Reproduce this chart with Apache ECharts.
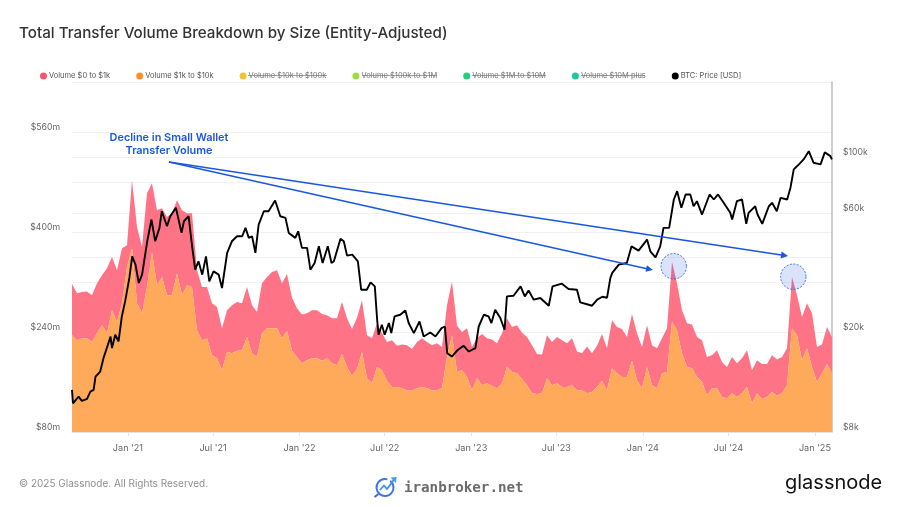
<!DOCTYPE html>
<html>
<head>
<meta charset="UTF-8">
<title>Total Transfer Volume Breakdown by Size (Entity-Adjusted)</title>
<script src="https://cdn.jsdelivr.net/npm/echarts@6/dist/echarts.min.js"></script>
<style>
  body { margin: 0; background: #fff; }
  #chart { width: 900px; height: 507px; }
</style>
</head>
<body>
<div id="chart"></div>
<script>
const firstDay = '2020-09-04';
const stepDays = 10.634;

// $ millions
const volume1kTo10k = [
  235, 227, 230, 230, 224, 238, 251, 238, 275, 256, 286, 344, 374, 286, 270, 312, 368, 315, 328, 299,
  299, 334, 299, 315, 312, 243, 227, 230, 203, 198, 179, 208, 206, 210, 211, 232, 206, 200, 238, 246,
  246, 246, 230, 242, 210, 200, 190, 195, 198, 198, 194, 198, 190, 187, 205, 184, 170, 181, 208, 166,
  158, 184, 179, 162, 152, 152, 150, 147, 146, 150, 152, 150, 147, 147, 150, 200, 235, 176, 179, 168,
  147, 166, 155, 158, 154, 150, 158, 184, 176, 174, 165, 155, 142, 141, 142, 166, 155, 158, 152, 152,
  155, 147, 147, 142, 144, 152, 162, 147, 182, 174, 168, 168, 194, 163, 150, 184, 155, 150, 174, 176,
  256, 243, 206, 184, 182, 168, 160, 139, 150, 150, 136, 134, 142, 136, 142, 152, 126, 142, 133, 136,
  144, 138, 142, 155, 246, 235, 195, 214, 184, 160, 174, 189, 174
];
const volume0To1k = [
  82, 75, 74, 75, 75, 80, 80, 104, 85, 83, 88, 35, 109, 122, 106, 150, 110, 120, 110, 125,
  131, 117, 136, 115, 118, 96, 85, 82, 83, 82, 67, 67, 77, 78, 75, 80, 77, 72, 80, 82,
  90, 93, 88, 91, 85, 78, 78, 75, 77, 77, 75, 69, 72, 75, 83, 78, 75, 82, 83, 69,
  72, 70, 59, 62, 75, 66, 70, 72, 67, 74, 78, 74, 72, 75, 66, 83, 86, 74, 61, 78,
  69, 64, 82, 72, 74, 72, 80, 78, 72, 77, 74, 77, 77, 64, 62, 69, 69, 74, 75, 70,
  75, 62, 59, 75, 62, 66, 75, 67, 77, 74, 77, 64, 75, 75, 66, 67, 64, 64, 56, 70,
  96, 75, 69, 70, 70, 64, 67, 61, 53, 61, 56, 50, 58, 54, 56, 59, 53, 53, 56, 53,
  59, 58, 58, 59, 82, 64, 69, 72, 86, 56, 46, 59, 58
];

// price turning points: days after firstDay, and USD
const btcDays = [
  0, 2, 6, 14, 21, 32, 39, 46, 50, 60, 67, 74, 82, 85, 92, 99, 106, 113, 122, 128,
  135, 142, 149, 160, 169, 177, 186, 191, 202, 209, 221, 233, 238, 248, 255, 262, 269, 277, 285, 292,
  301, 312, 319, 330, 340, 351, 362, 369, 376, 383, 390, 397, 408, 418, 432, 443, 454, 461, 475, 481,
  489, 500, 507, 516, 525, 533, 544, 552, 557, 571, 578, 585, 596, 608, 615, 627, 635, 644, 649, 652,
  659, 665, 674, 679, 686, 698, 709, 716, 727, 739, 748, 762, 773, 786, 793, 798, 808, 819, 833, 844,
  858, 865, 876, 886, 892, 900, 911, 920, 925, 939, 954, 963, 971, 982, 996, 1014, 1022, 1042, 1056, 1074,
  1081, 1099, 1106, 1117, 1128, 1138, 1145, 1149, 1163, 1180, 1190, 1205, 1223, 1230, 1241, 1251, 1258, 1270, 1280, 1287,
  1296, 1305, 1315, 1322, 1329, 1340, 1356, 1365, 1374, 1386, 1400, 1404, 1414, 1425, 1434, 1439, 1453, 1458, 1468, 1482,
  1489, 1499, 1507, 1521, 1528, 1535, 1546, 1556, 1567, 1577, 1592, 1601, 1613, 1616
];
const btcPrice = [
  11780, 10420, 10330, 11080, 10650, 10840, 11600, 11780, 13320, 13950, 15780, 17300, 19250, 17300, 19560, 18390, 23150, 26590, 32990, 40250,
  37290, 31500, 34000, 46220, 56450, 46220, 52290, 60940, 53070, 58190, 62880, 49930, 55570, 58190, 44830, 35610, 38440, 34000, 40250, 31970,
  35050, 34000, 30080, 41530, 46220, 48400, 48400, 52290, 47690, 48400, 41530, 53900, 60940, 60940, 67260, 58190, 57340, 49930, 47690, 50680,
  43490, 43490, 35610, 37870, 44130, 37870, 44130, 37870, 38440, 47250, 46220, 40510, 40880, 38440, 29610, 29610, 31670, 30530, 22460, 19560,
  21450, 19560, 21790, 19870, 23150, 23520, 24470, 21790, 19870, 22110, 19250, 19980, 19250, 20800, 21110, 16520, 16010, 16920, 17670, 16770,
  17300, 21110, 23520, 23150, 21790, 24630, 22810, 20480, 27840, 28020, 30530, 27840, 29420, 27010, 27430, 25550, 30530, 31300, 29810, 29610,
  26340, 25790, 25550, 27010, 27760, 27510, 32990, 34540, 37290, 37870, 44130, 42420, 46950, 42150, 39880, 44130, 52290, 52290, 67880, 73270,
  62880, 71080, 71080, 63810, 66820, 59110, 71080, 67880, 71080, 65850, 60050, 56450, 66820, 67880, 54260, 60050, 63810, 59110, 54260, 63810,
  65850, 60940, 68940, 67880, 75620, 89510, 93710, 98160, 105900, 95190, 93710, 104700, 101180, 98160
];

const hiddenSeries = [
  ['Volume $10k to $100k', '#f2c230'],
  ['Volume $100k to $1M', '#9ddc3c'],
  ['Volume $1M to $10M', '#22d07a'],
  ['Volume $10M plus', '#1cc8a4']
];
const xTickDates = ['2021-01-01', '2021-07-01', '2022-01-01', '2022-07-01', '2023-01-01', '2023-07-01', '2024-01-01', '2024-07-01', '2025-01-01'];
const xTickLabels = ["Jan '21", "Jul '21", "Jan '22", "Jul '22", "Jan '23", "Jul '23", "Jan '24", "Jul '24", "Jan '25"];
const volumeLabelTicks = [80, 240, 400, 560];
const priceLabelTicks = [8000, 20000, 60000, 100000];
const priceGridTicks = [8000, 20000, 40000, 60000, 100000];

const DAY = 86400000;
const startTime = new Date(firstDay + 'T00:00:00Z').getTime();
const dates = volume0To1k.map((v, i) => startTime + i * stepDays * DAY);
const xTicks = xTickDates.map(d => new Date(d + 'T00:00:00Z').getTime());
// value comes first: echarts stacks on the first non-time dimension
const pair = values => values.map((v, i) => [v, dates[i]]);
const priceData = btcPrice.map((v, i) => [v, startTime + btcDays[i] * DAY]);
const encodeValueFirst = { x: 1, y: 0 };

const blue = '#1a56e0';
const gridColor = '#f1f1f1';
const fontName = 'Inter, "Noto Sans", sans-serif';

function strike(x1, x2) {
  return { type: 'line', shape: { x1: x1, y1: 75.5, x2: x2, y2: 75.5 }, style: { stroke: '#777', lineWidth: 0.7 }, silent: true };
}

const chart = echarts.init(document.getElementById('chart'));
chart.setOption({
  animation: false,
  backgroundColor: '#fff',
  textStyle: { fontFamily: fontName },
  title: {
    text: 'Total Transfer Volume Breakdown by Size (Entity-Adjusted)',
    left: 14, top: 21,
    textStyle: { fontFamily: fontName, fontSize: 15.2, fontWeight: 500, color: '#333' }
  },
  legend: {
    left: 35, top: 67,
    icon: 'circle', itemWidth: 7, itemHeight: 7, itemGap: 26,
    selectedMode: false,
    textStyle: { fontFamily: fontName, fontSize: 7.5, color: '#555', padding: [0, 0, 0, -3] },
    data: ['Volume $0 to $1k', 'Volume $1k to $10k']
      .concat(hiddenSeries.map(s => ({ name: s[0], textStyle: { color: '#777' } })))
      .concat(['BTC: Price [USD]'])
  },
  grid: { left: 72, right: 68, top: 82, bottom: 75 },
  // plain value axis holding timestamps, so the half-year ticks can be listed by hand
  xAxis: {
    type: 'value',
    min: dates[0],
    max: dates[dates.length - 1],
    axisLine: { lineStyle: { color: '#e4e4e4' } },
    axisTick: { customValues: xTicks, length: 4, lineStyle: { color: '#e4e4e4' } },
    axisLabel: {
      customValues: xTicks,
      formatter: v => xTickLabels[xTicks.indexOf(+v)],
      color: '#666', fontSize: 9.1, margin: 12
    },
    splitLine: { show: false }
  },
  yAxis: [
    {
      type: 'value',
      min: 80, max: 640, interval: 80,
      position: 'left',
      axisLine: { show: false },
      axisTick: { show: false },
      axisLabel: {
        customValues: volumeLabelTicks,
        formatter: v => '$' + v + 'm',
        color: '#666', fontSize: 8.7, margin: 12, verticalAlign: 'bottom'
      },
      splitLine: { lineStyle: { color: gridColor } }
    },
    {
      type: 'log',
      min: 8000, max: 200000,
      position: 'right',
      axisLine: { show: true, lineStyle: { color: '#bdbdbd', width: 1.5 } },
      axisTick: { show: false, customValues: priceGridTicks },
      axisLabel: {
        customValues: priceLabelTicks,
        formatter: v => '$' + Math.round(v / 1000) + 'k',
        color: '#666', fontSize: 8.7, margin: 11, verticalAlign: 'bottom'
      },
      splitLine: { show: true, lineStyle: { color: gridColor } }
    }
  ],
  series: [
    {
      name: 'Volume $1k to $10k', type: 'line', stack: 'volume', yAxisIndex: 0, z: 3,
      data: pair(volume1kTo10k), encode: encodeValueFirst, showSymbol: false, color: '#fb8f2e',
      lineStyle: { width: 0 }, areaStyle: { color: '#ffa95a', opacity: 1 }
    },
    {
      name: 'Volume $0 to $1k', type: 'line', stack: 'volume', yAxisIndex: 0, z: 2,
      data: pair(volume0To1k), encode: encodeValueFirst, showSymbol: false, color: '#f9556c',
      lineStyle: { width: 0 }, areaStyle: { color: '#ff7386', opacity: 1 }
    }
  ].concat(hiddenSeries.map(s => ({ name: s[0], type: 'line', data: [], color: s[1] }))).concat([
    {
      name: 'BTC: Price [USD]', type: 'line', yAxisIndex: 1, z: 5,
      data: priceData, encode: encodeValueFirst, showSymbol: false, color: '#000',
      lineStyle: { color: '#000', width: 1.9 }
    }
  ]),
  graphic: [
    // top frame of the plot
    { type: 'line', shape: { x1: 72, y1: 82.5, x2: 832, y2: 82.5 }, style: { stroke: '#ececec', lineWidth: 1 }, silent: true },
    // struck-through legend entries
    strike(248, 327), strike(362, 437), strike(472, 546), strike(581, 645),
    // annotation
    { type: 'text', x: 169, y: 138, z: 20, style: { text: 'Decline in Small Wallet', font: '600 10.9px ' + fontName, fill: blue, align: 'center', verticalAlign: 'middle' } },
    { type: 'text', x: 169, y: 151, z: 20, style: { text: 'Transfer Volume', font: '600 10.9px ' + fontName, fill: blue, align: 'center', verticalAlign: 'middle' } },
    { type: 'line', z: 20, shape: { x1: 169, y1: 162, x2: 648, y2: 269 }, style: { stroke: blue, lineWidth: 1.4 } },
    { type: 'line', z: 20, shape: { x1: 169, y1: 162, x2: 783, y2: 255.2 }, style: { stroke: blue, lineWidth: 1.4 } },
    { type: 'polygon', z: 20, shape: { points: [[653, 270], [645.5, 271.8], [646.9, 265.2]] }, style: { fill: blue } },
    { type: 'polygon', z: 20, shape: { points: [[788, 256], [780.6, 258.4], [781.6, 251.6]] }, style: { fill: blue } },
    { type: 'circle', z: 20, shape: { cx: 673.7, cy: 266.3, r: 12.7 }, style: { fill: 'rgba(50,100,230,0.18)', stroke: blue, lineWidth: 0.8, lineDash: [2, 1.5] } },
    { type: 'circle', z: 20, shape: { cx: 793.3, cy: 276.7, r: 12.7 }, style: { fill: 'rgba(50,100,230,0.18)', stroke: blue, lineWidth: 0.8, lineDash: [2, 1.5] } },
    // footer
    { type: 'text', x: 19, y: 484, style: { text: '© 2025 Glassnode. All Rights Reserved.', font: '10px ' + fontName, fill: '#8f8f8f', verticalAlign: 'middle' } },
    { type: 'arc', shape: { cx: 385, cy: 487.5, r: 8.5, startAngle: -0.9, endAngle: 5.0 }, style: { stroke: '#3f74e6', lineWidth: 2, fill: null } },
    { type: 'line', shape: { x1: 378.5, y1: 494, x2: 374.5, y2: 497 }, style: { stroke: '#4a5fe0', lineWidth: 2 } },
    { type: 'polyline', shape: { points: [[380, 490], [384, 485.5], [387, 489], [394, 479.5]] }, style: { stroke: '#3f8fe8', lineWidth: 1.8, fill: null } },
    { type: 'polygon', shape: { points: [[396.5, 477], [390.5, 477.5], [396, 483]] }, style: { fill: '#3fa0e8' } },
    { type: 'text', x: 404, y: 488, style: { text: 'iranbroker.net', font: 'bold 14.2px "DejaVu Sans Mono", monospace', fill: '#6b6b6b', verticalAlign: 'middle' } },
    { type: 'text', x: 785, y: 483, style: { text: 'glassnode', font: '20px ' + fontName, fill: '#111', verticalAlign: 'middle' } }
  ]
});
</script>
</body>
</html>
